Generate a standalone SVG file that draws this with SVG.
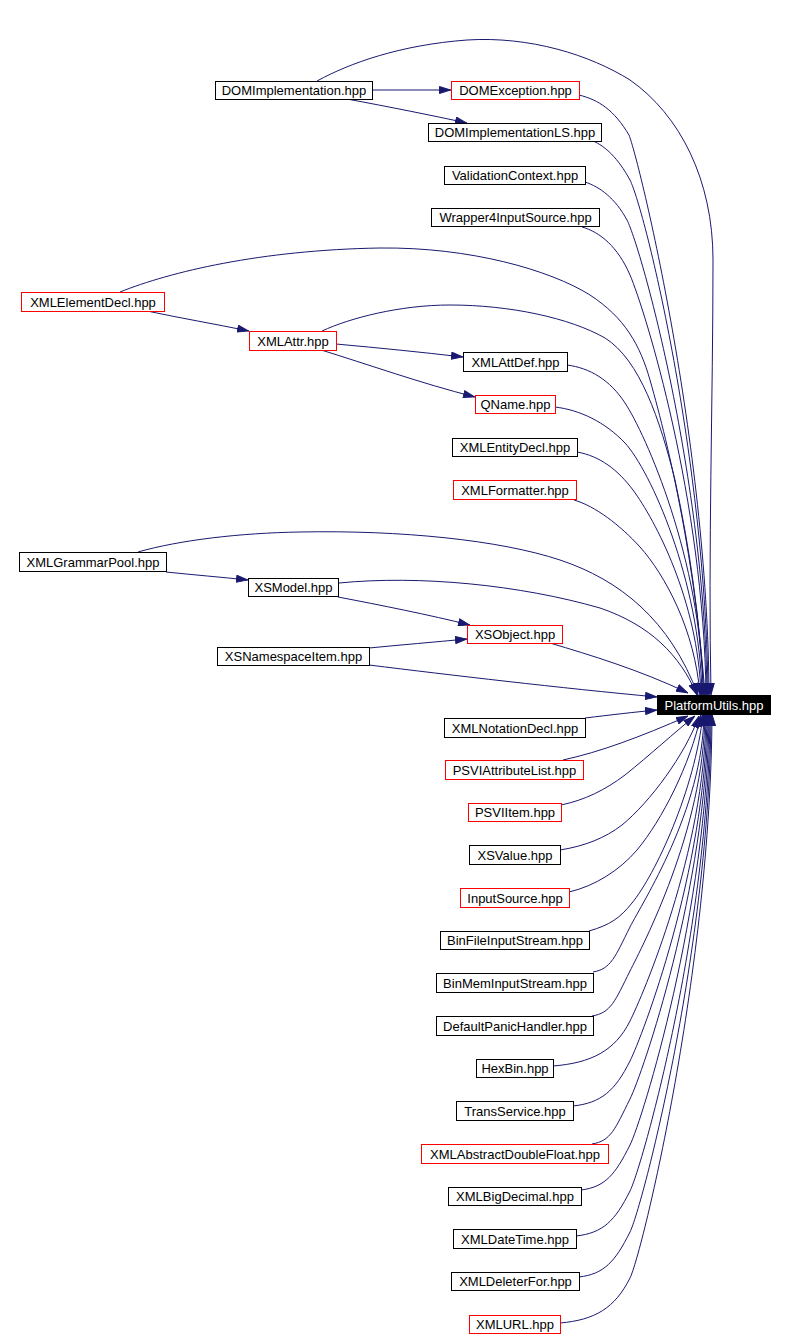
<svg xmlns="http://www.w3.org/2000/svg" width="785" height="1340" viewBox="0 0 785 1340">
<style>
.n rect{fill:#fff;stroke:#000;stroke-width:1}
.r rect{stroke:#f00}
.k rect{fill:#000;stroke:#000}
.k text{fill:#fff}
text{font-family:"Liberation Sans",Arial,Helvetica,sans-serif;font-size:13px;text-anchor:middle;fill:#000}
#edges path{fill:none;stroke:#191970;stroke-width:1;marker-end:url(#a)}
</style>
<defs>
<marker id="a" viewBox="0 0 12 8" refX="12" refY="4" markerWidth="12" markerHeight="8" markerUnits="userSpaceOnUse" orient="auto"><path d="M0.5,0.5 L11.5,4 L0.5,7.5 z" fill="#191970" stroke="#191970" stroke-width="1"/></marker>
</defs>
<rect width="785" height="1340" fill="#fff"/>
<g id="edges">
<path d="M372,90 L451,90"/>
<path d="M347,99 C390,107 430,115 467,123"/>
<path d="M147,311 C180,318 215,324 249,331"/>
<path d="M336,344 C380,348 420,352 463,357"/>
<path d="M318,349 C370,365 420,383 475,397"/>
<path d="M166,572 C195,575 220,577 248,580"/>
<path d="M338,597 C380,605 430,615 470,625"/>
<path d="M369,648 C400,645 435,642 467,639"/>
<path d="M317,81 C350,63 400,45 467,40 C530,36 590,55 630,80 C680,115 713,180 713,260 C713,400 708,550 711,695"/>
<path d="M579,95 C599,100 614,110 629,135 C639,160 708,443 709,695"/>
<path d="M593,141 C605,146 618,158 630,180 C645,210 706,460 708,695"/>
<path d="M585,182 C600,187 615,198 627,220 C642,250 705,480 707,695"/>
<path d="M582,227 C600,232 618,247 630,275 C645,310 704,500 706,695"/>
<path d="M120,292 C170,272 260,250 380,248 C470,247 550,270 590,295 C625,318 640,345 650,380 C670,450 695,560 705,695"/>
<path d="M322,331 C350,318 400,305 450,305 C510,305 570,318 605,338 C640,360 660,420 675,480 C690,550 700,620 704,695"/>
<path d="M567,365 C590,368 610,380 625,403 C645,433 702,560 703,695"/>
<path d="M555,407 C580,410 605,422 625,443 C650,470 700,580 702,695"/>
<path d="M577,452 C600,456 618,470 633,490 C655,520 698,600 701,695"/>
<path d="M574,500 C595,506 620,525 640,547 C665,575 695,630 700,695"/>
<path d="M138,552 C180,540 240,533 300,532 C400,530 500,540 560,560 C620,580 670,620 698,695"/>
<path d="M339,583 C420,575 520,585 600,608 C650,625 680,655 697,695"/>
<path d="M550,643 C590,655 640,670 688,693"/>
<path d="M369,665 C450,675 560,688 657,697"/>
<path d="M585,718 C610,715 635,712 657,710"/>
<path d="M563,760 C600,752 640,737 688,716"/>
<path d="M561,805 C585,800 605,790 625,775 C650,755 675,732 695,716"/>
<path d="M560,850 C585,846 605,838 622,825 C650,802 685,755 699,716"/>
<path d="M569,892 C595,886 620,870 637,850 C662,820 690,765 701,715"/>
<path d="M589,931 C610,925 620,918 632,903 C655,875 695,790 703,714"/>
<path d="M593,972 C611,969 615,957 630,927 C642,903 703,810 704,714"/>
<path d="M592,1016 C611,1013 615,1001 630,971 C642,947 704,830 705,714"/>
<path d="M553,1066 C591,1063 615,1051 630,1021 C642,997 705,852 706,714"/>
<path d="M573,1106 C601,1103 615,1091 630,1061 C642,1037 706,870 707,714"/>
<path d="M592,1144 C611,1141 615,1129 630,1099 C642,1075 707,887 708,714"/>
<path d="M581,1190 C605,1187 615,1175 630,1145 C642,1121 708,908 709,714"/>
<path d="M576,1236 C603,1233 615,1221 630,1191 C642,1167 709,929 710,714"/>
<path d="M579,1277 C604,1274 615,1262 630,1232 C642,1208 710,947 711,714"/>
<path d="M560,1323 C595,1320 615,1308 630,1278 C642,1254 711,968 712,714"/>
</g>
<g id="DOMImplementation" class="n"><rect x="215.5" y="81.5" width="157" height="18"/><text x="294" y="95">DOMImplementation.hpp</text></g>
<g id="DOMException" class="n r"><rect x="451.5" y="81.5" width="128" height="18"/><text x="515.5" y="95">DOMException.hpp</text></g>
<g id="DOMImplementationLS" class="n"><rect x="428.5" y="123.5" width="173" height="18"/><text x="515" y="137">DOMImplementationLS.hpp</text></g>
<g id="ValidationContext" class="n"><rect x="444.5" y="166.5" width="141" height="18"/><text x="515" y="180">ValidationContext.hpp</text></g>
<g id="Wrapper4InputSource" class="n"><rect x="431.5" y="208.5" width="168" height="18"/><text x="515.5" y="222">Wrapper4InputSource.hpp</text></g>
<g id="XMLElementDecl" class="n r"><rect x="21.5" y="292.5" width="143" height="19"/><text x="93" y="306.5">XMLElementDecl.hpp</text></g>
<g id="XMLAttr" class="n r"><rect x="249.5" y="331.5" width="87" height="19"/><text x="293" y="345.5">XMLAttr.hpp</text></g>
<g id="XMLAttDef" class="n"><rect x="463.5" y="352.5" width="104" height="19"/><text x="515.5" y="366.5">XMLAttDef.hpp</text></g>
<g id="QName" class="n r"><rect x="475.5" y="395.5" width="80" height="18"/><text x="515.5" y="409">QName.hpp</text></g>
<g id="XMLEntityDecl" class="n"><rect x="452.5" y="438.5" width="125" height="18"/><text x="515" y="452">XMLEntityDecl.hpp</text></g>
<g id="XMLFormatter" class="n r"><rect x="453.5" y="480.5" width="123" height="19"/><text x="515" y="494.5">XMLFormatter.hpp</text></g>
<g id="XMLGrammarPool" class="n"><rect x="19.5" y="552.5" width="147" height="19"/><text x="93" y="566.5">XMLGrammarPool.hpp</text></g>
<g id="XSModel" class="n"><rect x="248.5" y="578.5" width="90" height="18"/><text x="293.5" y="592">XSModel.hpp</text></g>
<g id="XSObject" class="n r"><rect x="467.5" y="625.5" width="95" height="18"/><text x="515" y="639">XSObject.hpp</text></g>
<g id="XSNamespaceItem" class="n"><rect x="217.5" y="647.5" width="152" height="18"/><text x="293.5" y="661">XSNamespaceItem.hpp</text></g>
<g id="PlatformUtils" class="n k"><rect x="657.5" y="695.5" width="113" height="19"/><text x="714" y="709.5">PlatformUtils.hpp</text></g>
<g id="XMLNotationDecl" class="n"><rect x="444.5" y="718.5" width="141" height="19"/><text x="515" y="732.5">XMLNotationDecl.hpp</text></g>
<g id="PSVIAttributeList" class="n r"><rect x="445.5" y="760.5" width="138" height="19"/><text x="514.5" y="774.5">PSVIAttributeList.hpp</text></g>
<g id="PSVIItem" class="n r"><rect x="468.5" y="803.5" width="93" height="18"/><text x="515" y="817">PSVIItem.hpp</text></g>
<g id="XSValue" class="n"><rect x="469.5" y="845.5" width="91" height="19"/><text x="515" y="859.5">XSValue.hpp</text></g>
<g id="InputSource" class="n r"><rect x="460.5" y="888.5" width="109" height="19"/><text x="515" y="902.5">InputSource.hpp</text></g>
<g id="BinFileInputStream" class="n"><rect x="440.5" y="931.5" width="149" height="18"/><text x="515" y="945">BinFileInputStream.hpp</text></g>
<g id="BinMemInputStream" class="n"><rect x="436.5" y="973.5" width="157" height="19"/><text x="515" y="987.5">BinMemInputStream.hpp</text></g>
<g id="DefaultPanicHandler" class="n"><rect x="436.5" y="1016.5" width="157" height="19"/><text x="515" y="1030.5">DefaultPanicHandler.hpp</text></g>
<g id="HexBin" class="n"><rect x="476.5" y="1059.5" width="77" height="18"/><text x="515" y="1073">HexBin.hpp</text></g>
<g id="TransService" class="n"><rect x="456.5" y="1101.5" width="117" height="19"/><text x="515" y="1115.5">TransService.hpp</text></g>
<g id="XMLAbstractDoubleFloat" class="n r"><rect x="421.5" y="1144.5" width="187" height="19"/><text x="515" y="1158.5">XMLAbstractDoubleFloat.hpp</text></g>
<g id="XMLBigDecimal" class="n"><rect x="448.5" y="1187.5" width="133" height="18"/><text x="515" y="1201">XMLBigDecimal.hpp</text></g>
<g id="XMLDateTime" class="n"><rect x="453.5" y="1229.5" width="123" height="19"/><text x="515" y="1243.5">XMLDateTime.hpp</text></g>
<g id="XMLDeleterFor" class="n"><rect x="451.5" y="1272.5" width="128" height="18"/><text x="515.5" y="1286">XMLDeleterFor.hpp</text></g>
<g id="XMLURL" class="n r"><rect x="469.5" y="1315.5" width="91" height="18"/><text x="515" y="1329">XMLURL.hpp</text></g>
</svg>
